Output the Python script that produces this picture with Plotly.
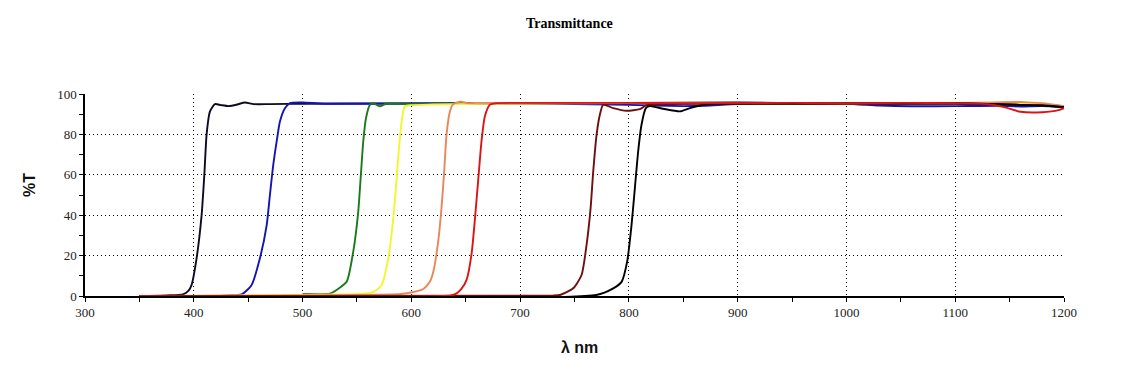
import plotly.graph_objects as go

# ---------------- data ----------------
black1_wl = [350, 375, 390, 395, 398, 402.6, 407.2, 409.7, 411.8, 414.9, 419.5, 425, 432, 440, 447, 455, 470, 500, 600, 700, 800, 900, 1000, 1100, 1140, 1160, 1180, 1200]
black1_t = [0, 0.3, 0.8, 2.5, 5.5, 18.7, 40, 60, 80, 91.4, 95, 94.5, 94, 94.8, 95.8, 95, 95, 95.2, 95.3, 95.4, 95.6, 95.8, 95.2, 95.3, 95, 94.5, 94.3, 93.5]

blue_wl = [350, 430, 444, 453.2, 460.8, 467, 470, 473.1, 476.2, 479.2, 483.8, 488.4, 500, 520, 600, 700, 800, 850, 870, 900, 950, 1000, 1030, 1060, 1100, 1140, 1160, 1180, 1200]
blue_t = [0, 0.3, 0.8, 5.5, 18.7, 35, 50, 65, 76.5, 86.4, 93, 95.5, 95.8, 95.2, 95.3, 95.4, 94.6, 94, 94.2, 95, 95.3, 95.2, 94.3, 93.9, 94, 94.2, 93.8, 94, 93.5]

green_wl = [500, 502, 525, 531.3, 540.5, 546.6, 551.2, 553.4, 555.8, 558.3, 562, 565, 571, 577.3, 590, 650, 750, 850, 950, 1050, 1130, 1160, 1180, 1200]
green_t = [1, 1, 1.2, 3, 7, 22, 41.8, 58.3, 76.5, 88, 94.7, 95.5, 93.9, 95.3, 95, 95.3, 95.5, 95.4, 95.2, 95.5, 95.5, 95.8, 95, 94]

yellow_wl = [350, 550, 562, 568, 572.7, 578.8, 583.4, 586.5, 588.9, 591.1, 594, 600, 620, 700, 800, 900, 1000, 1100, 1140, 1160, 1180, 1200]
yellow_t = [0, 1, 1.5, 3, 5.5, 18.7, 38.5, 58.3, 74.9, 86.4, 93.9, 94.5, 94.8, 95.3, 95.5, 95.4, 95.4, 95.5, 95.6, 95.2, 95, 93.8]

orange_wl = [350, 590, 602, 611, 617, 620.2, 624.7, 627.8, 630, 632.4, 635.5, 638.5, 645, 652, 660, 700, 800, 900, 1000, 1100, 1140, 1160, 1180, 1200]
orange_t = [0, 1, 2, 3.5, 7, 12, 27, 44, 60, 80, 91.4, 95, 96.2, 95.5, 95.6, 95.5, 95.6, 95.5, 95.6, 95.6, 95.8, 96, 95.5, 94]

maroon_wl = [350, 730, 736.6, 748.8, 756.5, 761.1, 764.8, 767.2, 770.3, 773.3, 776.4, 785.6, 797.9, 810, 816.3, 830, 900, 1000, 1100, 1140, 1160, 1180, 1200]
maroon_t = [0, 0.2, 0.5, 3.8, 10.4, 25.3, 43.5, 61.6, 79.8, 89.7, 94.7, 93, 91.7, 92.5, 94.5, 95, 95.3, 95.2, 95.4, 95, 94.6, 94.5, 93.5]

black2_wl = [350, 770, 785.6, 793.3, 798.4, 802.4, 805.5, 808.5, 811.6, 815.6, 819.3, 831.5, 847, 856, 870, 900, 1000, 1100, 1140, 1160, 1180, 1200]
black2_t = [0, 0.5, 3.8, 7, 17, 35, 53.4, 71.5, 84.8, 93, 94, 92.7, 91.4, 93, 94.8, 95.2, 95.3, 95.3, 95, 94.6, 94.3, 93.5]

red_wl = [350, 636, 641.6, 646, 650.8, 655.4, 658.4, 661.5, 664.6, 667.6, 672.2, 680, 700, 800, 850, 900, 950, 1000, 1050, 1100, 1130, 1145, 1160, 1180, 1195, 1200]
red_t = [0, 0.3, 1.3, 3.5, 8, 21, 37.7, 57.5, 77, 89, 94.7, 95.5, 95.6, 95.6, 95.5, 95.4, 95.6, 95.2, 95.6, 95.4, 95, 93.5, 91.2, 91, 92, 93]

x_ticks = [300, 400, 500, 600, 700, 800, 900, 1000, 1100, 1200]
y_ticks = [0, 20, 40, 60, 80, 100]

series = [
    (black1_wl, black1_t, "#0b0b22"),
    (blue_wl, blue_t, "#1414b4"),
    (green_wl, green_t, "#1b7a1b"),
    (yellow_wl, yellow_t, "#f4f430"),
    (orange_wl, orange_t, "#e8875a"),
    (maroon_wl, maroon_t, "#6e1010"),
    (black2_wl, black2_t, "#000000"),
    (red_wl, red_t, "#dd1414"),
]

fig = go.Figure()
for wl, t, col in series:
    fig.add_trace(go.Scatter(x=wl, y=t, mode="lines",
                             line=dict(color=col, width=1.9, shape="spline", smoothing=0.6),
                             showlegend=False, hoverinfo="skip"))

tick_font = dict(family="Liberation Serif, Times New Roman, serif", size=13, color="#222")
grid_common = dict(showgrid=True, gridcolor="#000000", gridwidth=1, griddash="1px,3px",
                   showline=True, linecolor="#000000", linewidth=1.5,
                   ticks="outside", ticklen=4, tickcolor="#000000", tickwidth=1,
                   zeroline=False, tickfont=tick_font)

fig.update_xaxes(range=[300, 1200], tickvals=x_ticks, ticktext=[str(v) for v in x_ticks],
                 minor=dict(dtick=50, tick0=300, ticks="outside", ticklen=4, tickcolor="#000", showgrid=False),
                 **grid_common)
fig.update_yaxes(range=[0, 100], tickvals=y_ticks, ticktext=[str(v) for v in y_ticks],
                 minor=dict(dtick=10, tick0=0, ticks="outside", ticklen=4, tickcolor="#000", showgrid=False),
                 **grid_common)

fig.update_layout(
    width=1130, height=372,
    margin=dict(l=77, r=74, t=86, b=84),
    paper_bgcolor="white", plot_bgcolor="white",
    annotations=[
        dict(text="<b>Transmittance</b>", xref="paper", yref="paper", x=0.4954, y=1.351,
             showarrow=False, xanchor="center", yanchor="middle",
             font=dict(family="Liberation Serif, Times New Roman, serif", size=14, color="#000")),
        dict(text="<b>%T</b>", xref="paper", yref="paper", x=-0.0562, y=0.55, textangle=-90,
             showarrow=False, xanchor="center", yanchor="middle",
             font=dict(family="Liberation Sans, Arial, sans-serif", size=16, color="#111")),
        dict(text="<b>λ nm</b>", xref="paper", yref="paper", x=0.5056, y=-0.2525,
             showarrow=False, xanchor="center", yanchor="middle",
             font=dict(family="Liberation Sans, Arial, sans-serif", size=16, color="#111")),
    ],
)

fig.write_html("out.html")
